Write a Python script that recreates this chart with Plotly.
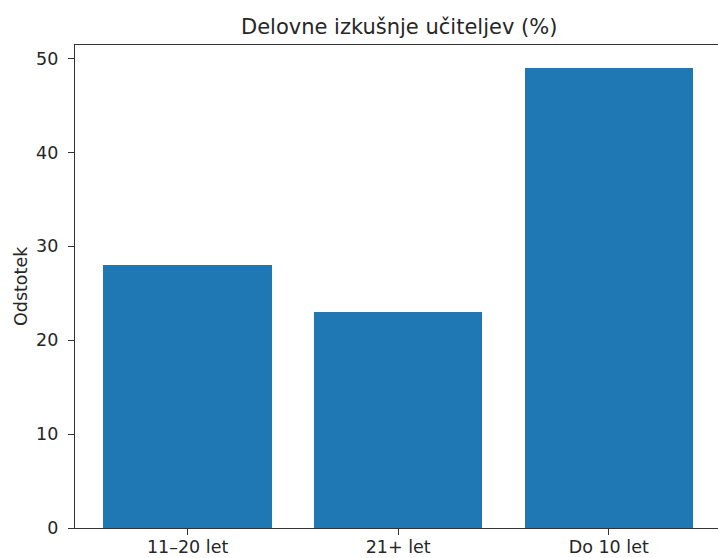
import plotly.graph_objects as go

categories = ["11–20 let", "21+ let", "Do 10 let"]
values = [28, 23, 49]
title = "Delovne izkušnje učiteljev (%)"
ylabel = "Odstotek"

W, H = 718, 558
L, T, B = 74.5, 45, 30
xr = [-0.535, 2.519]
PH = H - T - B

fig = go.Figure(go.Bar(
    x=list(range(len(categories))), y=values, width=0.8,
    marker=dict(color="#1f77b4", line=dict(width=0)),
))
fig.update_layout(
    width=W, height=H,
    margin=dict(l=L, r=0, t=T, b=B, pad=0),
    plot_bgcolor="white", paper_bgcolor="white",
    font=dict(family="DejaVu Sans", size=17.5, color="#262626"),
    showlegend=False,
    bargap=0,
)
fig.update_xaxes(
    range=xr, tickmode="array", tickvals=list(range(len(categories))),
    ticktext=categories, showgrid=False, zeroline=False,
    showline=True, linecolor="#333", linewidth=1.3, mirror=True,
    ticks="outside", ticklen=6, tickwidth=1.3, tickcolor="#333",
    ticklabelstandoff=-3,
    automargin=False,
)
fig.update_yaxes(
    range=[0, 51.45], tickvals=[0, 10, 20, 30, 40, 50],
    showgrid=False, zeroline=False,
    showline=True, linecolor="#333", linewidth=1.3,
    ticks="outside", ticklen=6, tickwidth=1.3, tickcolor="#333",
    ticklabelstandoff=6,
    automargin=False,
)
fig.add_annotation(
    text=ylabel, xref="paper", yref="paper", x=0, y=0.5,
    xanchor="center", yanchor="middle", xshift=20 - L, textangle=-90,
    showarrow=False, font=dict(size=17.5, color="#262626"),
)
fig.add_annotation(
    text=title, xref="paper", yref="paper",
    x=(399 - L) / (W - L), y=1 + 18 / PH, yanchor="middle",
    showarrow=False, font=dict(size=21, color="#262626"),
)
fig.write_html("out.html", config={"displayModeBar": False},
               post_script="document.body.style.margin='0';")
